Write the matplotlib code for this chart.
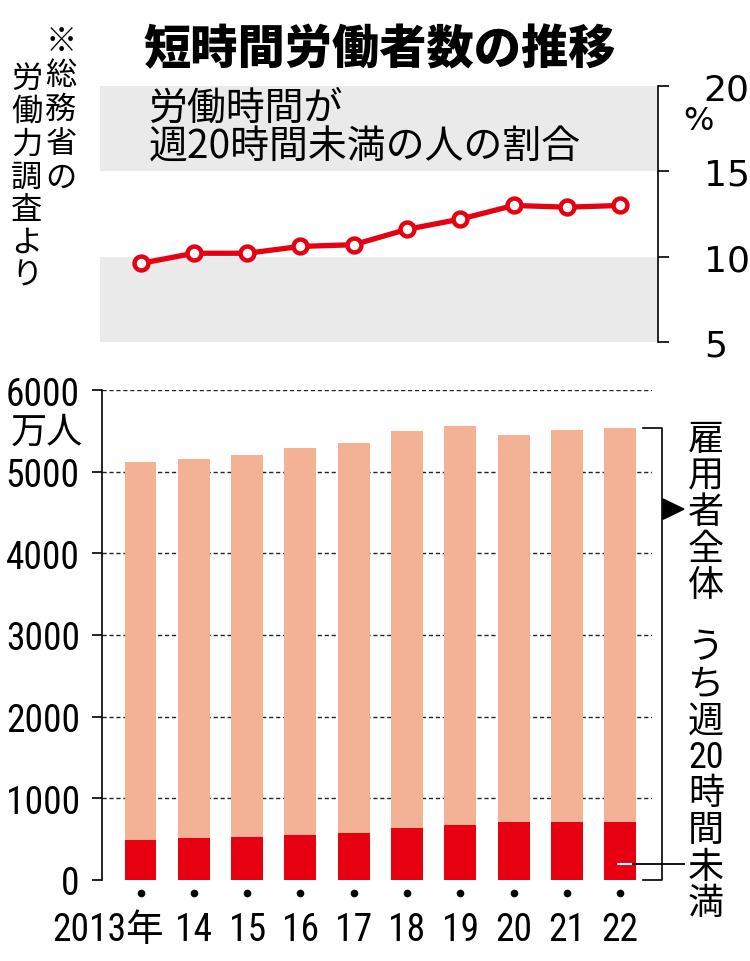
import matplotlib
matplotlib.use("Agg")
import matplotlib.pyplot as plt
import matplotlib.transforms as mtransforms
from matplotlib.lines import Line2D
from matplotlib.patches import Polygon
import numpy as np

# ---------- data ----------
years = ["2013年", "14", "15", "16", "17", "18", "19", "20", "21", "22"]
share_pct = [9.6, 10.2, 10.2, 10.6, 10.7, 11.6, 12.2, 13.0, 12.9, 13.0]   # 週20時間未満の割合 (%)
employees = [5120, 5160, 5205, 5290, 5355, 5495, 5555, 5455, 5515, 5535]  # 雇用者全体 (万人)
short_time = [485, 515, 525, 555, 570, 635, 670, 705, 708, 712]          # うち週20時間未満 (万人)
pct_ticks = [5, 10, 15, 20]
count_ticks = [0, 1000, 2000, 3000, 4000, 5000, 6000]

# ---------- style ----------
W, H = 750, 962
CJK = ["Noto Sans CJK JP", "DejaVu Sans"]
NARROW = ["Roboto Condensed", "Noto Sans CJK JP", "DejaVu Sans"]
RED = "#E60012"
SALMON = "#F3B195"
GRAY = "#EAEAEA"

plt.rcParams["font.family"] = CJK

fig = plt.figure(figsize=(W / 100, H / 100), dpi=100)


def px_axes(x0, y0, x1, y1):
    # axes from pixel box (top-left origin)
    return fig.add_axes([x0 / W, 1 - y1 / H, (x1 - x0) / W, (y1 - y0) / H])


def ftext(x, y, s, **kw):
    return fig.text(x / W, 1 - y / H, s, **kw)


def vtext(x, y0, cells, step, **kw):
    for i, c in enumerate(cells):
        ftext(x, y0 + i * step, c, ha="center", va="center", **kw)


x = np.arange(len(years))
x0_px, dx_px = 140.5, 53.3   # category 0 position and spacing in pixels


def xlim_for(left_px, right_px):
    return ((left_px - x0_px) / dx_px, (right_px - x0_px) / dx_px)


# ---------- title / note ----------
ftext(380, 50, "短時間労働者数の推移", ha="center", va="center",
      fontsize=34, fontweight="black", family=CJK)
vtext(61, 42, list("※総務省の"), 34.0, fontsize=22.5, family=CJK)
vtext(27, 79, list("労働力調査より"), 32.8, fontsize=22.5, family=CJK)

# ---------- top panel: share line ----------
ax1 = px_axes(100, 87, 658, 343)
ax1.set_xlim(*xlim_for(100, 658))
ax1.set_ylim(5, 20)
ax1.axhspan(5, 10, color=GRAY, lw=0, zorder=0)
ax1.axhspan(15, 20, color=GRAY, lw=0, zorder=0)
ax1.plot(x, share_pct, color=RED, lw=3.8, marker="o", ms=10,
         mfc="white", mec=RED, mew=3.2, zorder=3, solid_capstyle="round")
for s in ["left", "top", "bottom"]:
    ax1.spines[s].set_visible(False)
ax1.spines["right"].set_linewidth(1.2)
ax1.yaxis.tick_right()
ax1.set_yticks(pct_ticks)
ax1.set_yticklabels([str(t) for t in pct_ticks], family="DejaVu Sans", fontsize=26)
ax1.tick_params(axis="y", direction="out", length=8, width=1.2, pad=25)
ax1.set_xticks([])
ftext(683, 122, "%", ha="left", va="center", fontsize=23, family="DejaVu Sans")
ftext(149, 109, "労働時間が", ha="left", va="center", fontsize=28, family=CJK)
ftext(149, 148, "週20時間未満の人の割合", ha="left", va="center", fontsize=28, family=CJK)

# ---------- bottom panel: stacked bars ----------
ax2 = px_axes(102, 391, 652, 881)
ax2.set_xlim(*xlim_for(102, 652))
ax2.set_ylim(0, 6000)
for t in count_ticks[1:]:
    ax2.axhline(t, color="#222222", lw=1.0, ls=(0, (3, 2)), zorder=1)
ax2.bar(x, employees, width=0.6, color=SALMON, zorder=2)
ax2.bar(x, short_time, width=0.6, color=RED, zorder=3)
for s in ["right", "top", "bottom"]:
    ax2.spines[s].set_visible(False)
ax2.spines["left"].set_linewidth(1.2)
ax2.set_yticks(count_ticks)
ax2.set_yticklabels([str(t) for t in count_ticks], family=NARROW, fontsize=27)
ax2.tick_params(axis="y", direction="out", length=7, width=1.2, pad=9)
ax2.set_xticks(x)
ax2.set_xticklabels(years, family=NARROW, fontsize=27)
ax2.tick_params(axis="x", length=0, pad=22)
# "2013年" sits a little left of its bar, like the reference
first = ax2.get_xticklabels()[0]
first.set_horizontalalignment("right")
first.set_transform(first.get_transform() +
                    mtransforms.ScaledTranslation(23 / 100, 0, fig.dpi_scale_trans))
ftext(83, 433, "万人", ha="right", va="center", fontsize=26, family=CJK)

# dots under the bars
ax2.plot(x, np.full(len(x), -160), "o", color="black", ms=4.5, clip_on=False)

# bracket, arrow and leader line on the right
bx0, bx1 = xlim_for(643, 662)
ax2.add_line(Line2D([bx0, bx1, bx1, bx0], [employees[-1], employees[-1], 0, 0],
                    color="black", lw=1.2, clip_on=False))
ax0, ax_1 = xlim_for(663, 684)
arrow = Polygon([[ax0, 4665], [ax_1, 4541], [ax0, 4417]], closed=True,
                color="black", clip_on=False)
ax2.add_patch(arrow)
lx0, lx1, lx2 = xlim_for(618, 633)[0], xlim_for(633, 684)[0], xlim_for(633, 684)[1]
ax2.add_line(Line2D([lx0, lx1], [196, 196], color="white", lw=1.5,
                    solid_capstyle="round", zorder=4))
ax2.add_line(Line2D([lx1, lx2], [196, 196], color="black", lw=1.3,
                    clip_on=False, zorder=4))

vtext(706, 440, list("雇用者全体"), 36.6, fontsize=26, family=CJK)
cells = ["う", "ち", "週", "20", "時", "間", "未", "満"]
for i, c in enumerate(cells):
    fam = NARROW if c.isdigit() else CJK
    ftext(706, 648 + i * 36.6, c, ha="center", va="center", fontsize=26, family=fam)

fig.savefig("out.png", dpi=100)
